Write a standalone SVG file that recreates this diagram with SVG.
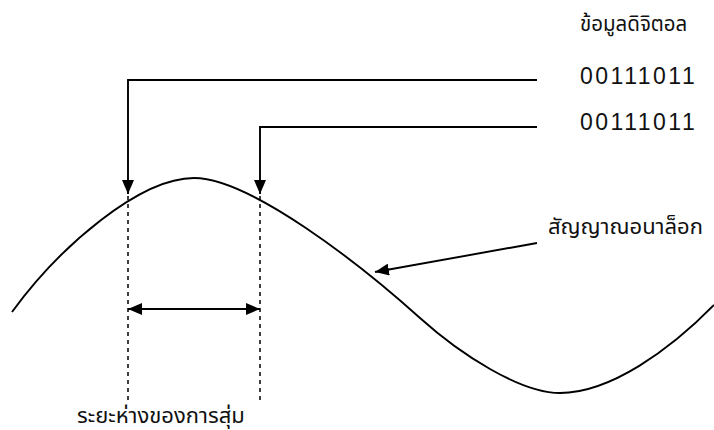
<svg xmlns="http://www.w3.org/2000/svg" width="714" height="430" viewBox="0 0 714 430">
<style>
.ln{fill:none;stroke:#000;stroke-width:1.9}
.dash{fill:none;stroke:#000;stroke-width:1.5;stroke-dasharray:4 4}
.th{font-family:"Noto Sans","Noto Sans Thai","DejaVu Sans",sans-serif;fill:#111}
.num{font-family:"Liberation Sans",Arial,sans-serif;font-size:23px;fill:#111;letter-spacing:2.5px}
</style>
<defs>
<marker id="ah" viewBox="0 0 14 12" refX="14" refY="6" markerWidth="14" markerHeight="12" markerUnits="userSpaceOnUse" orient="auto-start-reverse">
<path d="M0,0 L14,6 L0,12 z" fill="#000"/>
</marker>
</defs>
<rect width="714" height="430" fill="#fff"/>
<g id="wave">
<path class="ln" d="M12,312 C60,246 140,178 194,178 C250,178 360,264 420,318 C460,354 520,393 560,393 C610,393 670,350 714,305"/>
</g>
<g id="label-digital">
<text class="th" x="580" y="31" font-size="20.5">ข้อมูลดิจิตอล</text>
</g>
<g id="bits1">
<text class="num" x="580" y="84">00111011</text>
</g>
<g id="bits2">
<text class="num" x="580" y="130">00111011</text>
</g>
<g id="label-analog">
<text class="th" x="548" y="234" font-size="22">สัญญาณอนาล็อก</text>
</g>
<g id="label-interval">
<text class="th" x="77" y="423" font-size="22">ระยะห่างของการสุ่ม</text>
</g>
<g id="connectors">
<polyline class="ln" points="537,80 128,80 128,194" marker-end="url(#ah)"/>
<polyline class="ln" points="537,127 260,127 260,194" marker-end="url(#ah)"/>
<line class="ln" x1="537" y1="243" x2="375" y2="272" marker-end="url(#ah)"/>
<line class="ln" x1="128" y1="309" x2="260" y2="309" marker-start="url(#ah)" marker-end="url(#ah)"/>
<line class="dash" x1="128" y1="196" x2="128" y2="402"/>
<line class="dash" x1="260" y1="196" x2="260" y2="402"/>
</g>
</svg>
